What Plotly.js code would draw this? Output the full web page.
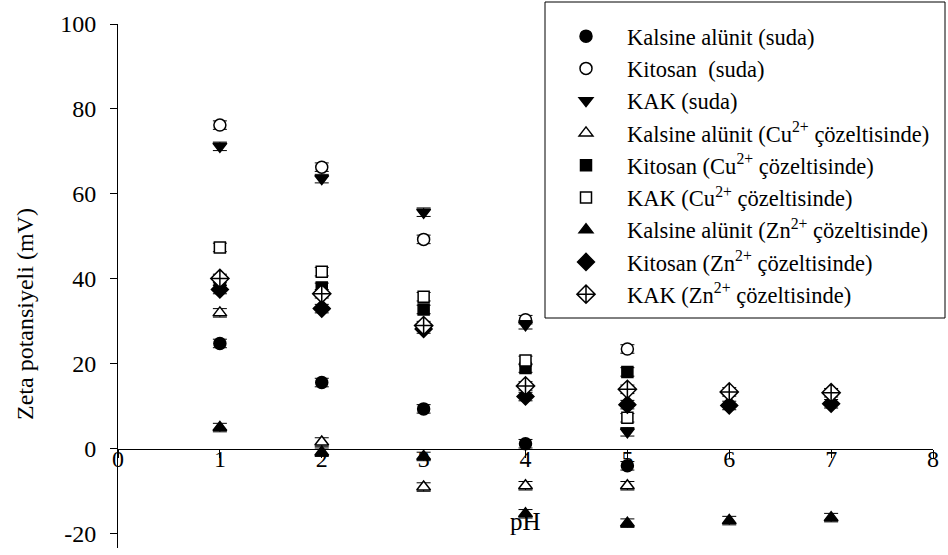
<!DOCTYPE html>
<html>
<head>
<meta charset="utf-8">
<script src="https://cdn.plot.ly/plotly-3.0.1.min.js"></script>
<style>html,body{margin:0;padding:0;background:#fff;}</style>
</head>
<body>
<div id="chart" style="width:948px;height:555px;"></div>
<script>
const pH = [1, 2, 3, 4, 5];
const pHZn = [1, 2, 3, 4, 5, 6, 7];

const seriesNames = [
  "Kalsine alünit (suda)",
  "Kitosan  (suda)",
  "KAK (suda)",
  "Kalsine alünit (Cu<sup>2+</sup> çözeltisinde)",
  "Kitosan (Cu<sup>2+</sup> çözeltisinde)",
  "KAK (Cu<sup>2+</sup> çözeltisinde)",
  "Kalsine alünit (Zn<sup>2+</sup> çözeltisinde)",
  "Kitosan (Zn<sup>2+</sup> çözeltisinde)",
  "KAK (Zn<sup>2+</sup> çözeltisinde)"
];

const kalsineSuda = [24.8, 15.6, 9.4, 1.2, -4.0];
const kitosanSuda = [76.2, 66.3, 49.3, 30.4, 23.5];
const kakSuda     = [71.2, 63.6, 55.7, 29.2, 4.0];
const kalsineCu   = [32.0, 1.6, -9.0, -8.7, -8.7];
const kitosanCu   = [39.5, 38.0, 32.8, 19.0, 18.1];
const kakCu       = [47.4, 41.7, 35.8, 20.8, 7.3];
const kalsineZn   = [5.0, -0.8, -1.8, -15.3, -17.5, -16.9, -16.2];
const kitosanZn   = [37.5, 33.0, 28.2, 12.3, 10.4, 10.2, 10.6];
const kakZn       = [40.1, 36.5, 29.0, 14.8, 14.0, 13.4, 13.2];

const yTickVals = [-20, 0, 20, 40, 60, 80, 100];
const yTickText = ['-20', '0', '20', '40', '60', '80', '100'];
const xTickVals = [0, 1, 2, 3, 4, 5, 6, 7, 8];

const xs = [pH, pH, pH, pH, pH, pH, pHZn, pHZn, pHZn];
const ys = [kalsineSuda, kitosanSuda, kakSuda, kalsineCu, kitosanCu, kakCu, kalsineZn, kitosanZn, kakZn];
const symbols = ['circle', 'circle', 'triangle-down', 'triangle-up', 'square', 'square', 'triangle-up', 'diamond', 'diamond-cross'];
const fills = ['black', 'white', 'black', 'white', 'black', 'white', 'black', 'black', 'white'];
const sizes = [12, 12, 12, 12, 11, 11, 12, 13, 14];

const FONT = 'Liberation Serif, Times New Roman, serif';

const traces = seriesNames.map((name, i) => ({
  type: 'scatter',
  mode: 'markers',
  name: name,
  legendgroup: 'g' + i,
  x: xs[i],
  y: ys[i],
  marker: {symbol: symbols[i], size: sizes[i], color: fills[i], line: {color: 'black', width: 1.5}},
  error_y: {type: 'constant', value: 1, thickness: 1, width: 7, color: 'black'}
}));

const W = 948, H = 555, L = 118, R = 15, T = 24, B = 7;
const pw = W - L - R, ph = H - T - B;
const px = v => (v - L) / pw;          // pixel x -> paper
const py = v => (H - B - v) / ph;      // pixel y -> paper

const yMin = -23.35, yMax = 100;
const layout = {
  width: W, height: H,
  margin: {l: L, r: R, t: T, b: B},
  paper_bgcolor: 'white', plot_bgcolor: 'white',
  font: {family: FONT, color: 'black', size: 24},
  showlegend: true,
  legend: {
    x: px(545), y: py(15), xanchor: 'left', yanchor: 'top',
    borderwidth: 0, bgcolor: 'rgba(0,0,0,0)',
    font: {size: 22.5, family: FONT},
    itemwidth: 72, tracegroupgap: 0, traceorder: 'normal',
    maxheight: 500
  },
  shapes: [{
    type: 'rect', xref: 'paper', yref: 'paper', layer: 'above',
    x0: px(545), x1: px(945), y0: py(318), y1: py(2),
    line: {color: 'black', width: 1}, fillcolor: 'white'
  }],
  xaxis: {
    range: [0, 8], tickvals: xTickVals,
    anchor: 'free', position: (0 - yMin) / (yMax - yMin),
    showline: true, linecolor: 'black', linewidth: 1,
    ticks: 'outside', ticklen: 8, tickcolor: 'black',
    showticklabels: false,
    showgrid: false, zeroline: false
  },
  xaxis2: {
    range: [0, 8], tickvals: xTickVals, overlaying: 'x',
    anchor: 'free', position: py(442),
    showline: false, ticks: '', showgrid: false, zeroline: false,
    tickfont: {size: 24, family: FONT}
  },
  yaxis: {
    range: [yMin, yMax], tickvals: yTickVals, ticktext: yTickText,
    showline: true, linecolor: 'black', linewidth: 1,
    ticks: 'outside', ticklen: 7, tickcolor: 'black',
    ticklabelstandoff: 9,
    showgrid: false, zeroline: false,
    tickfont: {size: 24, family: FONT}
  },
  annotations: [
    {
      text: 'pH', xref: 'x', yref: 'paper', x: 4, y: py(521),
      showarrow: false, font: {size: 25, family: FONT}, xanchor: 'center', yanchor: 'middle'
    },
    {
      text: 'Zeta potansiyeli (mV)', xref: 'paper', yref: 'paper',
      x: px(25), y: py(314), textangle: -90,
      showarrow: false, font: {size: 24, family: FONT}, xanchor: 'center', yanchor: 'middle'
    }
  ]
};

const axisHolder = {type: 'scatter', mode: 'markers', x: [0, 8], y: [0, 0], xaxis: 'x2', yaxis: 'y',
  marker: {opacity: 0}, showlegend: false, hoverinfo: 'skip'};

Plotly.newPlot('chart', traces.concat([axisHolder]), layout, {displayModeBar: false, staticPlot: true});
</script>
</body>
</html>
